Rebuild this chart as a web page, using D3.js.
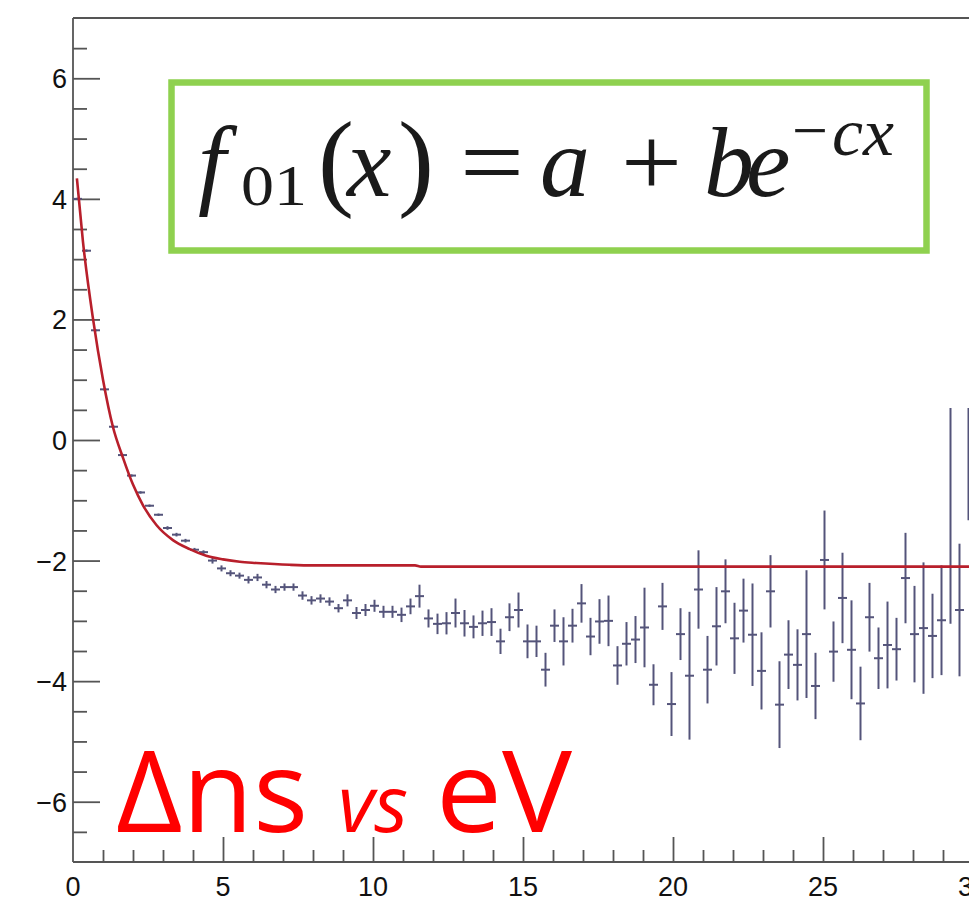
<!DOCTYPE html>
<html>
<head>
<meta charset="utf-8">
<script src="https://cdn.jsdelivr.net/npm/d3@7"></script>
<style>
  html, body { margin: 0; padding: 0; background: #ffffff; }
  svg { display: block; }
</style>
</head>
<body>
<div id="chart"></div>
<script>
// ---------------- data ----------------
const histXMin = 0, histXMax = 30, nBins = 100;   // histogram binning (0.3 wide)
const binValues = [
  4.00, 3.14, 1.82, 0.84, 0.22, -0.25, -0.59, -0.87, -1.09, -1.24,
  -1.46, -1.57, -1.67, -1.82, -1.86, -2.00, -2.13, -2.21, -2.25, -2.32,
  -2.28, -2.40, -2.48, -2.44, -2.44, -2.58, -2.66, -2.63, -2.68, -2.79,
  -2.66, -2.87, -2.82, -2.75, -2.85, -2.85, -2.90, -2.76, -2.59, -2.96,
  -3.05, -3.04, -2.87, -3.04, -3.10, -3.04, -3.02, -3.34, -2.94, -2.82,
  -3.34, -3.34, -3.81, -3.08, -3.34, -3.08, -2.71, -3.26, -3.01, -3.00,
  -3.74, -3.38, -3.31, -3.11, -4.06, -2.76, -4.38, -3.22, -3.91, -2.48,
  -3.81, -3.09, -2.51, -3.29, -2.83, -3.23, -3.83, -2.51, -4.39, -3.56,
  -3.73, -3.22, -4.08, -1.99, -3.51, -2.62, -3.48, -4.37, -2.94, -3.62,
  -3.40, -3.47, -2.29, -3.22, -3.12, -3.25, -2.99, 0.90, -2.82, 1.50
];
const binErrors = [
  0.02, 0.02, 0.02, 0.02, 0.02, 0.02, 0.02, 0.02, 0.02, 0.02,
  0.03, 0.03, 0.03, 0.03, 0.03, 0.05, 0.05, 0.05, 0.05, 0.06,
  0.06, 0.06, 0.06, 0.06, 0.06, 0.07, 0.07, 0.07, 0.07, 0.07,
  0.10, 0.10, 0.10, 0.10, 0.10, 0.10, 0.12, 0.13, 0.19, 0.15,
  0.17, 0.185, 0.24, 0.22, 0.19, 0.21, 0.23, 0.21, 0.23, 0.29,
  0.28, 0.26, 0.28, 0.27, 0.40, 0.28, 0.32, 0.31, 0.37, 0.42,
  0.32, 0.36, 0.39, 0.66, 0.34, 0.39, 0.53, 0.43, 1.06, 0.65,
  0.56, 0.65, 0.53, 0.59, 0.53, 0.85, 0.64, 0.60, 0.72, 0.57,
  0.59, 1.06, 0.55, 0.82, 0.50, 0.75, 0.82, 0.61, 0.57, 0.51,
  0.72, 0.52, 0.75, 0.80, 1.09, 0.70, 0.91, 3.95, 1.10, 2.83
];
// fitted curve f01(x) = a + b e^{-cx}
const fitX = [0.13, 0.33, 0.67, 1.0, 1.33, 1.67, 2.0, 2.33, 2.78, 3.33, 3.89, 4.44, 5.0, 5.56, 6.11, 7.22, 8.0, 11.4, 11.6, 30.0];
const fitY = [4.34, 3.30, 2.00, 1.00, 0.22, -0.30, -0.74, -1.08, -1.41, -1.66, -1.81, -1.92, -1.98, -2.02, -2.04, -2.07, -2.08, -2.08, -2.10, -2.10];
// axes
const yMajorTicks = [-6, -4, -2, 0, 2, 4, 6];
const xMajorTicks = [0, 5, 10, 15, 20, 25, 30];
const yDomain = [-7, 7];
const xDomain = [0, 30];

// ---------------- layout ----------------
const W = 969, H = 901;
const svg = d3.select("#chart").append("svg")
  .attr("width", W).attr("height", H)
  .style("background", "#ffffff");

const x = d3.scaleLinear().domain(xDomain).range([73, 973]);
const y = d3.scaleLinear().domain(yDomain).range([862, 18]);
const axisColor = "#555555";
const pointColor = "#54547a";

// ---------- frame ----------
svg.append("line").attr("x1", x(0)).attr("x2", x(0)).attr("y1", y(7)).attr("y2", y(-7))
  .attr("stroke", axisColor).attr("stroke-width", 1.8);
svg.append("line").attr("x1", x(0)).attr("x2", W).attr("y1", y(-7)).attr("y2", y(-7))
  .attr("stroke", axisColor).attr("stroke-width", 1.8);
svg.append("line").attr("x1", x(0)).attr("x2", W).attr("y1", y(7)).attr("y2", y(7))
  .attr("stroke", axisColor).attr("stroke-width", 1.8);

// ---------- y axis (ticks inside) ----------
const yAxis = d3.axisRight(y)
  .tickValues(d3.range(-7, 7.01, 0.5).filter(v => v > -7 && v < 7))
  .tickSize(14).tickFormat("");
const gy = svg.append("g").attr("transform", `translate(${x(0)},0)`).call(yAxis);
gy.select(".domain").remove();
gy.selectAll(".tick line").attr("stroke", axisColor).attr("stroke-width", 1.8)
  .attr("x2", d => yMajorTicks.includes(d) ? 27 : 14);
const fmt = v => (v < 0 ? "\u2212" + Math.abs(v) : String(v));
svg.append("g").selectAll("text").data(yMajorTicks).join("text")
  .attr("x", 67).attr("y", d => y(d) + 10)
  .attr("text-anchor", "end")
  .attr("font-family", "Liberation Sans, Arial, sans-serif")
  .attr("font-size", 27).attr("fill", "#111")
  .text(fmt);

// ---------- x axis (ticks inside) ----------
const xAxis = d3.axisTop(x)
  .tickValues(d3.range(1, 31, 1))
  .tickSize(12).tickFormat("");
const gx = svg.append("g").attr("transform", `translate(0,${y(-7)})`).call(xAxis);
gx.select(".domain").remove();
gx.selectAll(".tick line").attr("stroke", axisColor).attr("stroke-width", 1.8)
  .attr("y2", d => xMajorTicks.includes(d) ? -25 : -12);
svg.append("g").selectAll("text").data(xMajorTicks).join("text")
  .attr("x", d => x(d)).attr("y", 896)
  .attr("text-anchor", "middle")
  .attr("font-family", "Liberation Sans, Arial, sans-serif")
  .attr("font-size", 27).attr("fill", "#111")
  .text(d => String(d));

// ---------- histogram points with error bars ----------
const bw = (histXMax - histXMin) / nBins;
const bins = binValues.map((v, i) => ({
  lo: histXMin + i * bw, hi: histXMin + (i + 1) * bw, v, e: binErrors[i]
}));
const gp = svg.append("g").attr("stroke", pointColor).attr("stroke-width", 2);
gp.selectAll("line.h").data(bins).join("line").attr("class", "h")
  .attr("x1", d => x(d.lo)).attr("x2", d => x(d.hi))
  .attr("y1", d => y(d.v)).attr("y2", d => y(d.v));
gp.selectAll("line.v").data(bins).join("line").attr("class", "v")
  .attr("x1", d => x((d.lo + d.hi) / 2)).attr("x2", d => x((d.lo + d.hi) / 2))
  .attr("y1", d => y(d.v - d.e)).attr("y2", d => y(d.v + d.e));

// ---------- fit curve ----------
const fitPts = fitX.map((xx, i) => [xx, fitY[i]]);
svg.append("path").datum(fitPts)
  .attr("fill", "none").attr("stroke", "#b81f2b").attr("stroke-width", 2.6)
  .attr("d", d3.line().x(d => x(d[0])).y(d => y(d[1])).curve(d3.curveMonotoneX));

// ---------- pasted slide box (occludes upper right) ----------
svg.append("rect").attr("x", 612).attr("y", 26).attr("width", W - 612).attr("height", 382)
  .attr("fill", "#ffffff");

// ---------- formula box ----------
svg.append("rect").attr("x", 171.5).attr("y", 82.5).attr("width", 755).attr("height", 168)
  .attr("fill", "#ffffff").attr("stroke", "#8fd14f").attr("stroke-width", 6.5);

const fm = svg.append("g").attr("fill", "#1a1a1a").attr("font-family", "Liberation Serif, Times New Roman, serif");
function piece(txt, px, py, size, italic, len) {
  const t = fm.append("text").attr("x", px).attr("y", py).attr("font-size", size)
    .attr("font-style", italic ? "italic" : "normal").text(txt);
  if (len) t.attr("textLength", len).attr("lengthAdjust", "spacingAndGlyphs");
  return t;
}
piece("f", 198, 196, 100, true);
piece("01", 241, 205, 58, false, 66);
piece("(", 318, 196, 108, false);
piece("x", 347, 196, 100, true);
piece(")", 398, 196, 108, false);
piece("=", 460, 196, 100, false, 64);
piece("a", 540, 196, 100, true);
piece("+", 621, 196, 100, false, 61);
piece("b", 704, 196, 100, true);
piece("e", 746, 196, 100, true);
piece("\u2212", 792, 152, 64, false, 36);
piece("cx", 832, 155, 68, true, 62);

// ---------- red label ----------
const lab = svg.append("g").attr("fill", "#ff0000").attr("font-family", "Open Sans, Noto Sans, sans-serif");
lab.append("text").attr("x", 116).attr("y", 832).attr("font-size", 114)
  .attr("textLength", 192).attr("lengthAdjust", "spacingAndGlyphs").text("\u0394ns");
lab.append("text").attr("x", 338).attr("y", 832).attr("font-size", 78).attr("font-style", "italic")
  .attr("textLength", 70).attr("lengthAdjust", "spacingAndGlyphs").text("vs");
lab.append("text").attr("x", 436).attr("y", 832).attr("font-size", 114)
  .attr("textLength", 136).attr("lengthAdjust", "spacingAndGlyphs").text("eV");
</script>
</body>
</html>
